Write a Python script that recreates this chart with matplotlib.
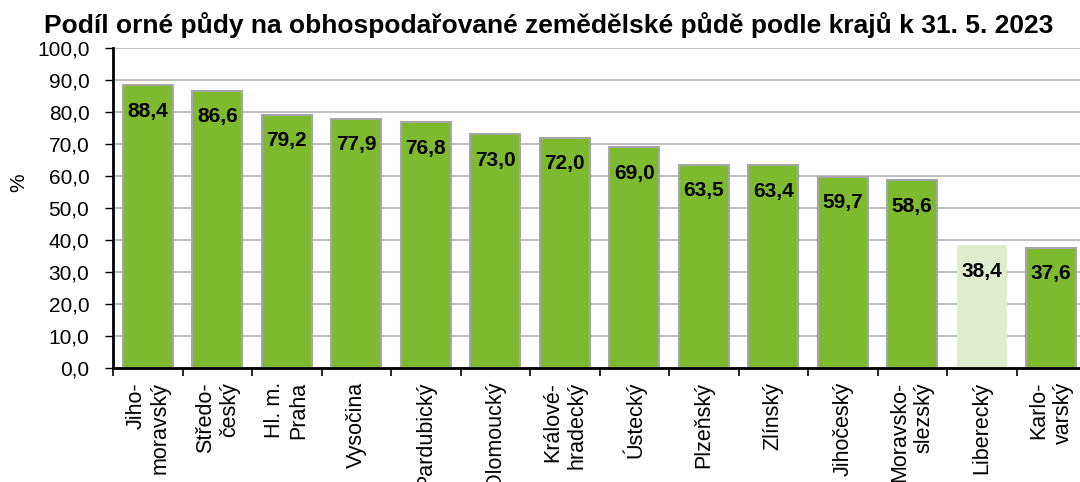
import numpy as np
import matplotlib.pyplot as plt

plt.rcParams['font.family'] = ['Liberation Sans', 'DejaVu Sans']

kraje = ['Jiho-\nmoravský', 'Středo-\nčeský', 'Hl. m.\nPraha', 'Vysočina',
         'Pardubický', 'Olomoucký', 'Králové-\nhradecký', 'Ústecký', 'Plzeňský',
         'Zlínský', 'Jihočeský', 'Moravsko-\nslezský', 'Liberecký', 'Karlo-\nvarský']
podil = [88.4, 86.6, 79.2, 77.9, 76.8, 73.0, 72.0, 69.0, 63.5, 63.4, 59.7, 58.6, 38.4, 37.6]
zvyrazneny = 'Liberecký'

green = '#7dba2f'
light = '#dfedcc'

fig = plt.figure(figsize=(10.8, 4.82), dpi=100)
ax = fig.add_axes([113/1080, 1 - 368/482, 973/1080, 320/482])

x = np.arange(len(kraje))
colors = [light if k == zvyrazneny else green for k in kraje]
edges = ['none' if k == zvyrazneny else '#a6a6a6' for k in kraje]
ax.bar(x, podil, width=0.72, color=colors, edgecolor=edges, linewidth=1.5, zorder=2)

for xi, v in zip(x, podil):
    ax.annotate(f'{v:.1f}'.replace('.', ','), (xi, v), xytext=(0, -26),
                textcoords='offset pixels', ha='center', va='center',
                fontsize=15, fontweight='bold', zorder=3)

ax.set_xlim(-0.5, len(kraje) - 0.5)
ax.set_ylim(0, 100)
ax.set_yticks(np.arange(0, 101, 10))
ax.set_yticklabels([f'{t:.1f}'.replace('.', ',') for t in np.arange(0, 101, 10)], fontsize=15)
ax.yaxis.grid(True, color='#c0c0c0', linewidth=1.5, zorder=0)
ax.set_axisbelow(True)

ax.set_xticks(np.arange(len(kraje) + 1) - 0.5)
ax.set_xticklabels([])
ax.set_xticks(x, minor=True)
ax.set_xticklabels(kraje, minor=True, rotation=90, fontsize=15.5,
                   va='top', ha='center', multialignment='right')
ax.tick_params(axis='x', which='minor', length=0, pad=10)
ax.tick_params(axis='x', which='major', length=6, width=1.2, direction='out')
ax.tick_params(axis='y', length=6, width=1.0, direction='out', pad=11)

for s in ['top', 'right']:
    ax.spines[s].set_visible(False)
ax.spines['left'].set_linewidth(2)
ax.spines['bottom'].set_linewidth(2)

ax.set_ylabel('%', fontsize=15)
ax.yaxis.set_label_coords(-0.087, 0.578)

fig.text(549/1080, 1 - 25/482,
         'Podíl orné půdy na obhospodařované zemědělské půdě podle krajů k 31. 5. 2023',
         ha='center', va='center', fontsize=19, fontweight='bold')

fig.savefig('out.png', dpi=100)
